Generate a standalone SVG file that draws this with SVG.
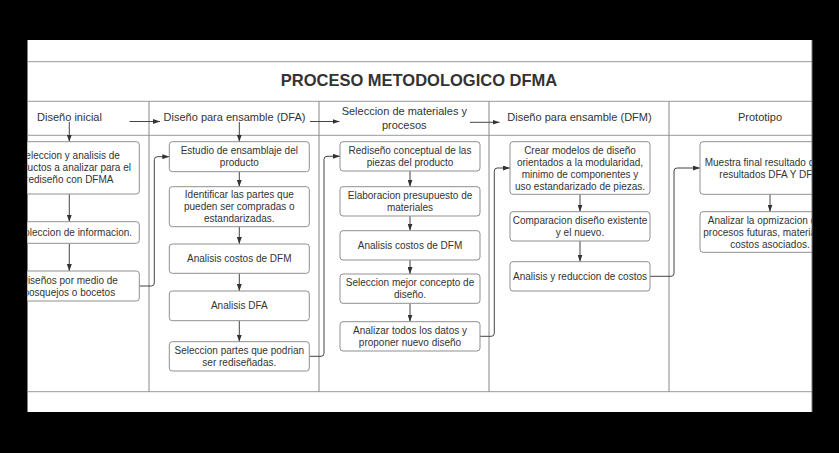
<svg xmlns="http://www.w3.org/2000/svg" width="839" height="453" viewBox="0 0 839 453">
<style>
.t{font-family:"Liberation Sans",Arial,sans-serif;font-size:10px;fill:#333;text-anchor:middle}
.h{font-family:"Liberation Sans",Arial,sans-serif;font-size:11px;fill:#333;text-anchor:middle}
.title{font-family:"Liberation Sans",Arial,sans-serif;font-size:16.5px;font-weight:bold;fill:#333;text-anchor:middle}
.box{fill:#fff;stroke:#8f8f8f;stroke-width:1}
.ln{stroke:#999;stroke-width:1;fill:none}
.lane{stroke:#888;stroke-width:1;fill:none}
.c{stroke:#444;stroke-width:1;fill:none;marker-end:url(#ah)}
</style>
<defs>
<marker id="ah" viewBox="0 0 7 5" refX="7" refY="2.5" markerWidth="7" markerHeight="5" markerUnits="userSpaceOnUse" orient="auto">
<path d="M0,0 L7,2.5 L0,5 z" fill="#333"/>
</marker>
<clipPath id="card"><rect x="27.5" y="40" width="784.5" height="372"/></clipPath>
</defs>
<rect x="0" y="0" width="839" height="453" fill="#000"/>
<rect x="27.5" y="40" width="784.5" height="372" fill="#fff"/>
<g clip-path="url(#card)">
<g id="pool">
<line class="ln" x1="0" y1="61.7" x2="839" y2="61.7"/>
<line class="ln" x1="0" y1="101.3" x2="839" y2="101.3"/>
<line class="ln" x1="0" y1="135.3" x2="839" y2="135.3"/>
<line class="ln" x1="0" y1="391.7" x2="839" y2="391.7" stroke="#aaa"/>
<line class="lane" x1="149" y1="101.3" x2="149" y2="391.7"/>
<line class="lane" x1="319" y1="101.3" x2="319" y2="391.7"/>
<line class="lane" x1="489" y1="101.3" x2="489" y2="391.7"/>
<line class="lane" x1="669" y1="101.3" x2="669" y2="391.7"/>
<text class="title" x="419" y="86">PROCESO METODOLOGICO DFMA</text>
</g>
<g id="headers">
<text class="h" x="69.5" y="121">Diseño inicial</text>
<text class="h" x="234.5" y="121">Diseño para ensamble (DFA)</text>
<text class="h" x="404.3" y="115">Seleccion de materiales y</text>
<text class="h" x="404.3" y="128.5">procesos</text>
<text class="h" x="579.5" y="121">Diseño para ensamble (DFM)</text>
<text class="h" x="760" y="121">Prototipo</text>
</g>
<g id="connectors">
<line class="c" x1="129.5" y1="121.5" x2="160" y2="121.5"/>
<line class="c" x1="310" y1="121.5" x2="339.5" y2="121.5"/>
<line class="c" x1="470" y1="122.3" x2="499.5" y2="122.3"/>
<line class="c" x1="69.3" y1="122" x2="69.3" y2="141.7"/>
<line class="c" x1="239.3" y1="122" x2="239.3" y2="141.7"/>
<line class="c" x1="69.3" y1="194" x2="69.3" y2="221.7"/>
<line class="c" x1="69.3" y1="243.3" x2="69.3" y2="271"/>
<path class="c" d="M139.3,286 H151.3 Q154.3,286 154.3,283 V159.7 Q154.3,156.7 157.3,156.7 H169.3"/>
<line class="c" x1="239.3" y1="171.7" x2="239.3" y2="186.7"/>
<line class="c" x1="239.3" y1="226.7" x2="239.3" y2="244"/>
<line class="c" x1="239.3" y1="273.3" x2="239.3" y2="291"/>
<line class="c" x1="239.3" y1="320.7" x2="239.3" y2="341.7"/>
<path class="c" d="M309.3,356.3 H321 Q324,356.3 324,353.3 V159.3 Q324,156.3 327,156.3 H340"/>
<line class="c" x1="410" y1="171" x2="410" y2="186.7"/>
<line class="c" x1="410" y1="216" x2="410" y2="230.7"/>
<line class="c" x1="410" y1="260" x2="410" y2="274"/>
<line class="c" x1="410" y1="303.3" x2="410" y2="321.7"/>
<path class="c" d="M480,336.3 H491.3 Q494.3,336.3 494.3,333.3 V171 Q494.3,168 497.3,168 H510"/>
<line class="c" x1="580" y1="194.3" x2="580" y2="211.7"/>
<line class="c" x1="580" y1="241" x2="580" y2="261.7"/>
<path class="c" d="M650,276.3 H671 Q674,276.3 674,273.3 V171 Q674,168 677,168 H700"/>
<line class="c" x1="770" y1="194.3" x2="770" y2="211.7"/>
</g>
<g id="l1n1"><rect class="box" x="-0.7" y="141.7" width="140" height="52.3" rx="3"/>
<text class="t" x="69.3" y="159.4">Seleccion y analisis de</text>
<text class="t" x="69.3" y="171.4">productos a analizar para el</text>
<text class="t" x="69.3" y="183.4">rediseño con DFMA</text></g>
<g id="l1n2"><rect class="box" x="-0.7" y="221.7" width="140" height="21.6" rx="3"/>
<text class="t" x="69.3" y="236">Recoleccion de informacion.</text></g>
<g id="l1n3"><rect class="box" x="-0.7" y="271" width="140" height="30" rx="3"/>
<text class="t" x="69.3" y="283.5">Diseños por medio de</text>
<text class="t" x="69.3" y="295.5">bosquejos o bocetos</text></g>
<g id="l2n1"><rect class="box" x="169.3" y="141.7" width="140" height="30" rx="3"/>
<text class="t" x="239.3" y="154.2">Estudio de ensamblaje del</text>
<text class="t" x="239.3" y="166.2">producto</text></g>
<g id="l2n2"><rect class="box" x="169.3" y="186.7" width="140" height="40" rx="3"/>
<text class="t" x="239.3" y="198.2">Identificar las partes que</text>
<text class="t" x="239.3" y="210.2">pueden ser compradas o</text>
<text class="t" x="239.3" y="222.2">estandarizadas.</text></g>
<g id="l2n3"><rect class="box" x="169.3" y="244" width="140" height="29.3" rx="3"/>
<text class="t" x="239.3" y="262.2">Analisis costos de DFM</text></g>
<g id="l2n4"><rect class="box" x="169.3" y="291" width="140" height="29.7" rx="3"/>
<text class="t" x="239.3" y="309.3">Analisis DFA</text></g>
<g id="l2n5"><rect class="box" x="169.3" y="341.7" width="140" height="29.3" rx="3"/>
<text class="t" x="239.3" y="353.8">Seleccion partes que podrian</text>
<text class="t" x="239.3" y="365.8">ser rediseñadas.</text></g>
<g id="l3n1"><rect class="box" x="340" y="141.7" width="140" height="29.3" rx="3"/>
<text class="t" x="410" y="153.8">Rediseño conceptual de las</text>
<text class="t" x="410" y="165.8">piezas del producto</text></g>
<g id="l3n2"><rect class="box" x="340" y="186.7" width="140" height="29.3" rx="3"/>
<text class="t" x="410" y="198.8">Elaboracion presupuesto de</text>
<text class="t" x="410" y="210.8">materiales</text></g>
<g id="l3n3"><rect class="box" x="340" y="230.7" width="140" height="29.3" rx="3"/>
<text class="t" x="410" y="248.8">Analisis costos de DFM</text></g>
<g id="l3n4"><rect class="box" x="340" y="274" width="140" height="29.3" rx="3"/>
<text class="t" x="410" y="286.2">Seleccion mejor concepto de</text>
<text class="t" x="410" y="298.2">diseño.</text></g>
<g id="l3n5"><rect class="box" x="340" y="321.7" width="140" height="29.3" rx="3"/>
<text class="t" x="410" y="333.8">Analizar todos los datos y</text>
<text class="t" x="410" y="345.8">proponer nuevo diseño</text></g>
<g id="l4n1"><rect class="box" x="510" y="141.7" width="140" height="52.6" rx="3"/>
<text class="t" x="580" y="153.5">Crear modelos de diseño</text>
<text class="t" x="580" y="165.5">orientados a la modularidad,</text>
<text class="t" x="580" y="177.5">minimo de componentes y</text>
<text class="t" x="580" y="189.5">uso estandarizado de piezas.</text></g>
<g id="l4n2"><rect class="box" x="510" y="211.7" width="140" height="29.3" rx="3"/>
<text class="t" x="580" y="223.8">Comparacion diseño existente</text>
<text class="t" x="580" y="235.8">y el nuevo.</text></g>
<g id="l4n3"><rect class="box" x="510" y="261.7" width="140" height="29.3" rx="3"/>
<text class="t" x="580" y="279.8">Analisis y reduccion de costos</text></g>
<g id="l5n1"><rect class="box" x="700" y="141.7" width="140" height="52.6" rx="3"/>
<text class="t" x="770" y="165.5">Muestra final resultado de los</text>
<text class="t" x="770" y="177.5">resultados DFA Y DFM</text></g>
<g id="l5n2"><rect class="box" x="700" y="211.7" width="140" height="40.6" rx="3"/>
<text class="t" x="770" y="223.5">Analizar la opmizacion de la</text>
<text class="t" x="770" y="235.5">procesos futuras, materiales y</text>
<text class="t" x="770" y="247.5">costos asociados.</text></g>
</g>
<line x1="812" y1="40" x2="812" y2="412" stroke="#777" stroke-width="1"/>
</svg>
